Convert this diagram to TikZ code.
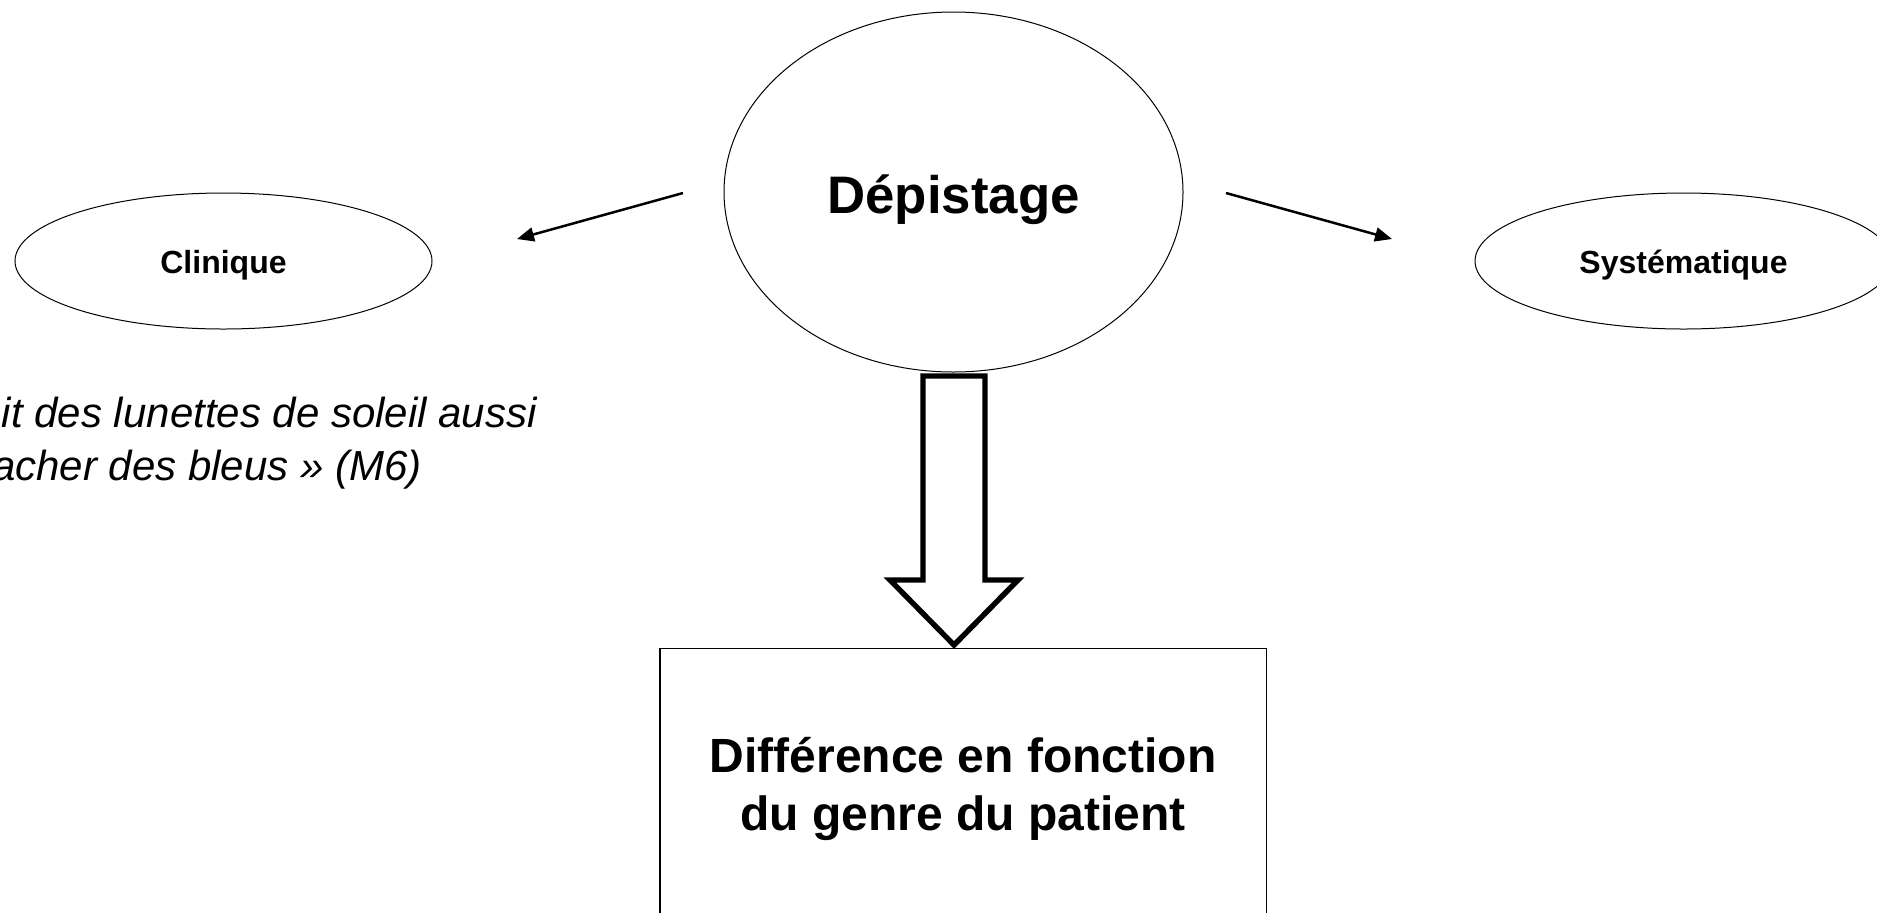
\documentclass[tikz,border=0pt]{standalone}
\usepackage{fontspec}
\setmainfont{Liberation Sans}
\usetikzlibrary{shapes.geometric,arrows.meta}
\begin{document}
\begin{tikzpicture}[x=0.5pt,y=-0.5pt,
  oval/.style={draw=black,line width=0.5pt,ellipse,inner sep=0pt},
  ovallabel/.style={inner sep=0pt,anchor=base,font=\fontsize{16pt}{19pt}\selectfont\bfseries},
  thinarrow/.style={line width=1.25pt,-{Triangle[length=8.5pt,width=7pt]}},
  bigarrow/.style={draw=black,line width=2.7pt,line join=miter,miter limit=4,fill=white},
  boxlabel/.style={inner sep=0pt,anchor=base,font=\fontsize{24pt}{29pt}\selectfont\bfseries},
  quote/.style={font=\fontsize{21pt}{27.5pt}\selectfont\itshape,inner sep=0pt,anchor=base east}]
\useasboundingbox (0,0) rectangle (1877,912);
\clip (0,0) rectangle (1877,912);
% central ellipse
\node[oval,minimum width=229.5pt,minimum height=180pt] (dep) at (953.5,192) {};
\node[inner sep=0pt,anchor=base,font=\fontsize{26.4pt}{30pt}\selectfont\bfseries] (deplabel) at (953.5,213) {Dépistage};
% side ellipses
\node[oval,minimum width=208.5pt,minimum height=68pt] (cli) at (223.5,261) {};
\node[ovallabel] (clilabel) at (223.5,273) {Clinique};
\node[oval,minimum width=208.5pt,minimum height=68pt] (sys) at (1683.5,261) {};
\node[ovallabel] (syslabel) at (1683.5,273) {Systématique};
% thin arrows
\coordinate (la1) at (683,193);
\coordinate (la2) at (517,239);
\coordinate (ra1) at (1226,193);
\coordinate (ra2) at (1392,239);
\draw[thinarrow] (la1) -- (la2);
\draw[thinarrow] (ra1) -- (ra2);
% bottom box
\node[draw=black,line width=0.7pt,minimum width=303.25pt,minimum height=200pt,anchor=north,inner sep=0pt] (box) at (963.25,648) {};
\node[boxlabel] (boxtext1) at (963.25,772) {Différence en fonction};
\node[boxlabel] (boxtext2) at (963.25,830) {du genre du patient};
% big hollow arrow
\draw[bigarrow] (923,376) -- (923,580) -- (890,580) -- (954,645) -- (1018,580) -- (985,580) -- (985,376) -- cycle;
% quote (cut off at the left edge, as in the reference)
\node[quote] (q1) at (537,427) {it des lunettes de soleil aussi};
\node[quote] (q2) at (422,480) {acher des bleus » (M6)};
\end{tikzpicture}
\end{document}
